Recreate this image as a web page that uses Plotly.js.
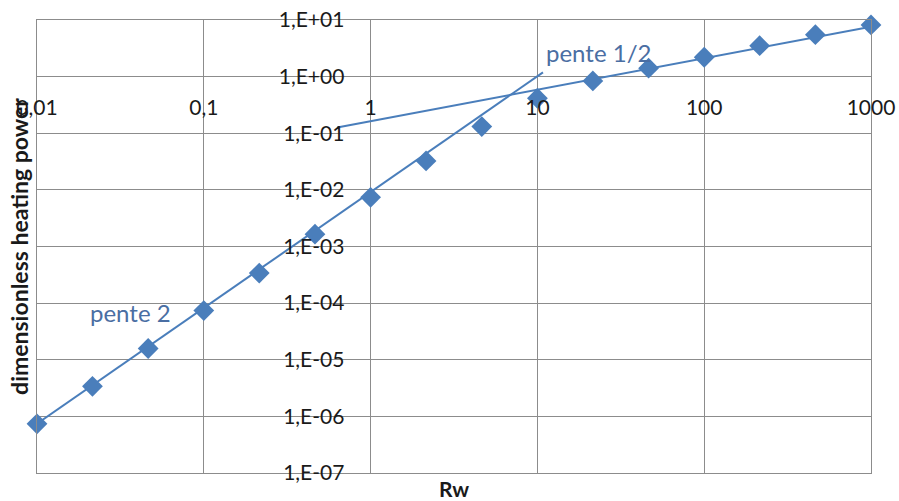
<!DOCTYPE html>
<html>
<head>
<meta charset="utf-8">
<script src="https://cdn.plot.ly/plotly-3.0.1.min.js"></script>
<style>html,body{margin:0;padding:0;background:#fff;}#chart{width:899px;height:501px;}</style>
</head>
<body>
<div id="chart"></div>
<script>
// Data
var rw = [0.01, 0.0215, 0.0464, 0.1, 0.215, 0.464, 1, 2.15, 4.64, 10, 21.5, 46.4, 100, 215, 464, 1000];
var power = [7.4e-7, 3.4e-6, 1.58e-5, 7.4e-5, 3.4e-4, 1.65e-3, 7.4e-3, 3.25e-2, 0.131, 0.415, 0.84, 1.41, 2.2, 3.52, 5.5, 8.2];

var slope2X = [0.01, 10.8];
var slope2Y = [7.4e-7, 1.19];
var slopeHalfX = [0.63, 1000];
var slopeHalfY = [0.126, 7.6];

var xTickVals = [0.01, 0.1, 1, 10, 100, 1000];
var xTickText = ["0,01", "0,1", "1", "10", "100", "1000"];
var yTickVals = [1e-7, 1e-6, 1e-5, 1e-4, 1e-3, 1e-2, 1e-1, 1, 10];
var yTickText = ["1,E-07", "1,E-06", "1,E-05", "1,E-04", "1,E-03", "1,E-02", "1,E-01", "1,E+00", "1,E+01"];

var blue = "#4a7ebb";
var grid = "#8c8c8c";
var font = "Lato, 'Open Sans', sans-serif";

var traces = [
  {x: slope2X, y: slope2Y, mode: "lines", line: {color: blue, width: 2}, hoverinfo: "skip", showlegend: false},
  {x: slopeHalfX, y: slopeHalfY, mode: "lines", line: {color: blue, width: 2}, hoverinfo: "skip", showlegend: false},
  {x: rw, y: power, mode: "markers", cliponaxis: false, marker: {symbol: "diamond", size: 16, color: blue}, showlegend: false}
];

var layout = {
  width: 899, height: 501,
  margin: {l: 37, r: 28, t: 20, b: 28},
  paper_bgcolor: "#fff", plot_bgcolor: "#fff",
  font: {family: font, color: "#1a1a1a", size: 21},
  showlegend: false,
  xaxis: {
    type: "log", range: [-2, 3], tickvals: xTickVals, ticktext: xTickText,
    showticklabels: false, showgrid: true, gridcolor: grid, gridwidth: 1,
    showline: true, linecolor: grid, linewidth: 1, mirror: true, zeroline: false, ticks: "",
    title: {text: "<b>Rw</b>", font: {family: font, size: 21, color: "#1a1a1a"}, standoff: 10},
    automargin: false
  },
  yaxis: {
    type: "log", range: [-7, 1], tickvals: yTickVals, ticktext: yTickText,
    showticklabels: false, showgrid: true, gridcolor: grid, gridwidth: 1,
    showline: true, linecolor: grid, linewidth: 1, mirror: true, zeroline: false, ticks: "",
    title: {text: "<b>dimensionless heating power</b>", font: {family: font, size: 23, color: "#1a1a1a"}, standoff: 0},
    automargin: false
  },
  xaxis2: {
    type: "log", range: [-2, 3], overlaying: "x", anchor: "free", position: 0.875,
    tickvals: xTickVals, ticktext: xTickText, showgrid: false, showline: false, zeroline: false,
    ticks: "outside", ticklen: 12, tickcolor: "rgba(0,0,0,0)",
    tickfont: {family: font, size: 21, color: "#1a1a1a"}, automargin: false
  },
  yaxis2: {
    type: "log", range: [-7, 1], overlaying: "y", anchor: "free", position: 0.4, side: "left",
    tickvals: yTickVals, ticktext: yTickText, showgrid: false, showline: false, zeroline: false,
    ticks: "outside", ticklen: 22, tickcolor: "rgba(0,0,0,0)",
    tickfont: {family: font, size: 21, color: "#1a1a1a"}, automargin: false
  },
  annotations: [
    {x: -1.438, y: -4.17, xref: "x", yref: "y", text: "pente 2", showarrow: false,
     font: {family: font, size: 24, color: "#4a6ea3"}},
    {x: 1.368, y: 0.418, xref: "x", yref: "y", text: "pente 1/2", showarrow: false,
     font: {family: font, size: 24, color: "#4a6ea3"}}
  ]
};

// an invisible point on the overlay axes so their tick labels are drawn
traces.push({x: [1], y: [1], xaxis: "x2", yaxis: "y2", mode: "markers", marker: {opacity: 0}, hoverinfo: "skip", showlegend: false});

Plotly.newPlot("chart", traces, layout, {displayModeBar: false, staticPlot: true});
</script>
</body>
</html>
